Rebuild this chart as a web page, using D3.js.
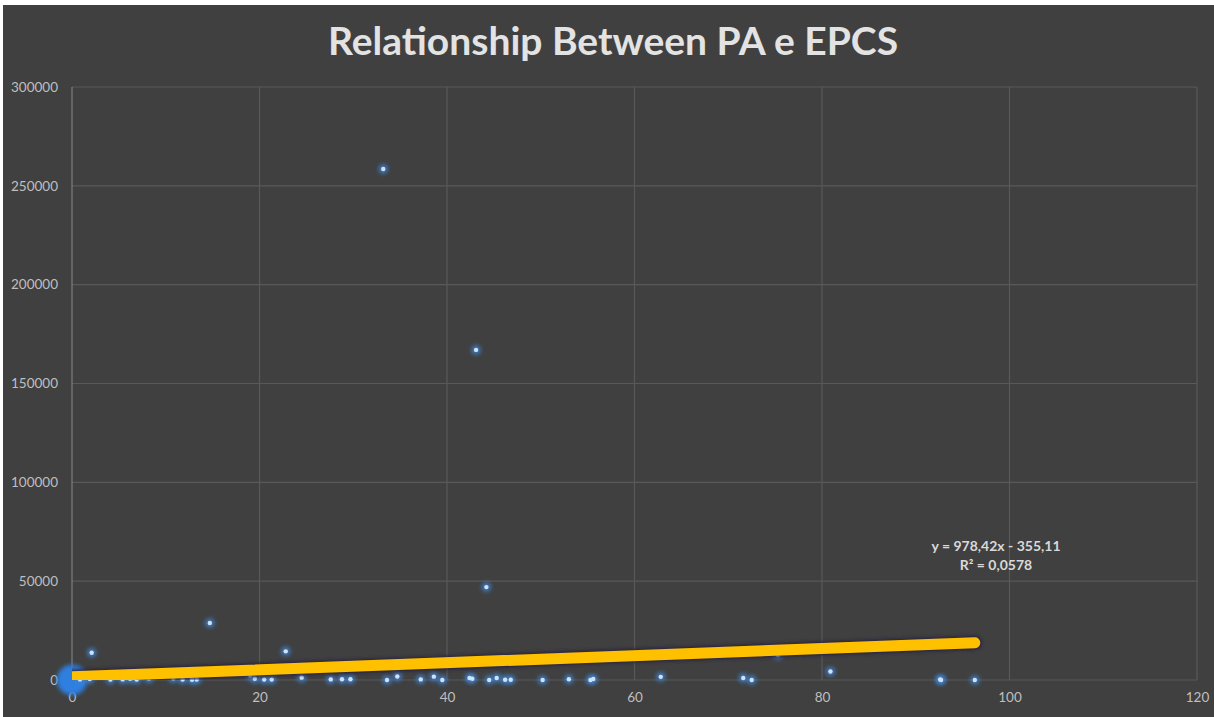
<!DOCTYPE html>
<html>
<head>
<meta charset="utf-8">
<script src="https://cdn.jsdelivr.net/npm/d3@7/dist/d3.min.js"></script>
<style>
  body { margin: 0; background: #ffffff; }
  svg { display: block; }
</style>
</head>
<body>
<svg id="chart" width="1214" height="717"></svg>
<script>
// data (PA on x, EPCS on y)
var paValues = [0, 0, 0, 0, 0, 0, 0, 0, 0.85, 1.9, 2.1, 4.1, 5.4, 6.2, 6.9, 8.2, 10.8, 11.8, 12.8, 13.3,
  14.7, 19.0, 19.5, 20.5, 21.3, 22.8, 24.5, 27.6, 28.8, 29.7, 33.2, 33.6, 34.7, 37.2, 38.6, 39.5,
  42.4, 42.7, 43.1, 44.2, 44.5, 45.3, 46.2, 46.8, 50.2, 53.0, 55.3, 55.6, 62.8, 71.6, 72.5, 75.3,
  80.9, 92.6, 92.7, 96.3];
var epcsValues = [0, 0, 0, 0, 0, 0, 0, 0, 300, 500, 13800, 200, 300, 600, 200, 800, 900, 200, 100, 200,
  28800, 2300, 600, 200, 200, 14500, 1200, 300, 400, 400, 258500, 0, 1800, 300, 1700, 0,
  1000, 600, 167000, 47000, 0, 1000, 100, 100, 0, 400, 0, 500, 1600, 1000, 0, 12600,
  4300, 300, 0, 0];

// linear trendline as drawn
var trendX = [0, 96.3];
var trendY = [1600, 18800];
var trendLabel = ["y = 978,42x - 355,11", "R² = 0,0578"];

var xTicks = [0, 20, 40, 60, 80, 100, 120];
var yTicks = [0, 50000, 100000, 150000, 200000, 250000, 300000];
var chartTitle = "Relationship Between PA e EPCS";

var W = 1214, H = 717;
var margin = {top: 87, right: 17, bottom: 37, left: 72};

var svg = d3.select("#chart");

// white frame + dark chart area
svg.append("rect").attr("width", W).attr("height", H).attr("fill", "#ffffff");
svg.append("rect").attr("x", 3).attr("y", 5).attr("width", W - 3).attr("height", H - 5).attr("fill", "#404040");

var x = d3.scaleLinear().domain([0, 120]).range([margin.left, W - margin.right]);
var y = d3.scaleLinear().domain([0, 300000]).range([H - margin.bottom, margin.top]);

var defs = svg.append("defs");
var glow = defs.append("filter").attr("id", "glow")
  .attr("x", "-100%").attr("y", "-100%").attr("width", "300%").attr("height", "300%");
glow.append("feGaussianBlur").attr("stdDeviation", 2.2);
var shadow = defs.append("filter").attr("id", "shadow")
  .attr("x", "-5%").attr("y", "-100%").attr("width", "110%").attr("height", "300%");
shadow.append("feGaussianBlur").attr("stdDeviation", 1.5);
defs.append("clipPath").attr("id", "plotClip")
  .append("rect").attr("x", x(0)).attr("y", y(300000)).attr("width", x(120) - x(0)).attr("height", y(0) - y(300000));

// gridlines
svg.append("g")
  .selectAll("line.h").data(yTicks).join("line")
  .attr("x1", x(0)).attr("x2", x(120))
  .attr("y1", d => y(d)).attr("y2", d => y(d))
  .attr("stroke", "#595959").attr("stroke-width", 1.2);
svg.append("g")
  .selectAll("line.v").data(xTicks.slice(1)).join("line")
  .attr("x1", d => x(d)).attr("x2", d => x(d))
  .attr("y1", y(0)).attr("y2", y(300000))
  .attr("stroke", "#595959").attr("stroke-width", 1.2);
// value axis line
svg.append("line")
  .attr("x1", x(0)).attr("x2", x(0)).attr("y1", y(0)).attr("y2", y(300000))
  .attr("stroke", "#8a8a8a").attr("stroke-width", 1);

// axes (labels only)
var xAxis = svg.append("g").attr("transform", "translate(0," + (y(0) + 8) + ")")
  .call(d3.axisBottom(x).tickValues(xTicks).tickSize(0).tickPadding(4).tickFormat(d3.format("d")));
var yAxis = svg.append("g").attr("transform", "translate(" + (x(0) - 14) + ",0)")
  .call(d3.axisLeft(y).tickValues(yTicks).tickSize(0).tickPadding(0).tickFormat(d3.format("d")));
[xAxis, yAxis].forEach(function(g) {
  g.select(".domain").remove();
  g.selectAll("text")
    .attr("fill", "#bfbfbf")
    .style("font-family", "Lato, 'Open Sans', sans-serif")
    .style("font-size", "13.5px");
});

// points: count duplicates so the stacked origin looks like one big blob
var points = paValues.map((v, i) => ({pa: v, epcs: epcsValues[i]}));
var grouped = Array.from(d3.rollup(points, v => v.length, d => d.pa + "|" + d.epcs),
  ([k, n]) => ({pa: +k.split("|")[0], epcs: +k.split("|")[1], n: n}));

var pts = svg.append("g");
pts.selectAll("circle.glow").data(grouped).join("circle")
  .attr("cx", d => x(d.pa)).attr("cy", d => y(d.epcs))
  .attr("r", d => d.n > 1 ? 4 + 1.4 * d.n : 4.6)
  .attr("fill", d => d.n > 1 ? "#2f7fe0" : "#3f86d6")
  .attr("opacity", d => d.n > 1 ? 1 : 0.85)
  .attr("filter", "url(#glow)");
pts.selectAll("circle.dot").data(grouped.filter(d => d.n === 1)).join("circle")
  .attr("cx", d => x(d.pa)).attr("cy", d => y(d.epcs))
  .attr("r", 2.2)
  .attr("fill", "#cfe2fb");

// trendline
var trendData = trendX.map((v, i) => ({pa: v, epcs: trendY[i]}));
var line = d3.line().x(d => x(d.pa)).y(d => y(d.epcs));
var tg = svg.append("g").attr("clip-path", "url(#plotClip)");
tg.append("path").datum(trendData).attr("d", line)
  .attr("fill", "none").attr("stroke", "#2a2440").attr("stroke-width", 15)
  .attr("stroke-linecap", "round").attr("opacity", 0.8).attr("filter", "url(#shadow)");
tg.append("path").datum(trendData).attr("d", line)
  .attr("fill", "none").attr("stroke", "#ffc000").attr("stroke-width", 11)
  .attr("stroke-linecap", "round");

// trendline label
svg.append("g").selectAll("text").data(trendLabel).join("text")
  .attr("x", 996).attr("y", (d, i) => 551 + i * 19)
  .attr("text-anchor", "middle")
  .attr("fill", "#d9d9d9")
  .style("font-family", "Lato, 'Open Sans', sans-serif")
  .style("font-weight", "bold")
  .style("font-size", "14px")
  .text(d => d);

// title
var title = svg.append("text")
  .attr("x", 613).attr("y", 55)
  .attr("text-anchor", "middle")
  .attr("fill", "#e3e3e3")
  .style("font-family", "Lato, 'Open Sans', sans-serif")
  .style("font-weight", "bold")
  .style("font-size", "36px")
  .text(chartTitle);
var tw = title.node().getComputedTextLength();
title.style("font-size", (36 * 570 / tw).toFixed(1) + "px");
</script>
</body>
</html>
